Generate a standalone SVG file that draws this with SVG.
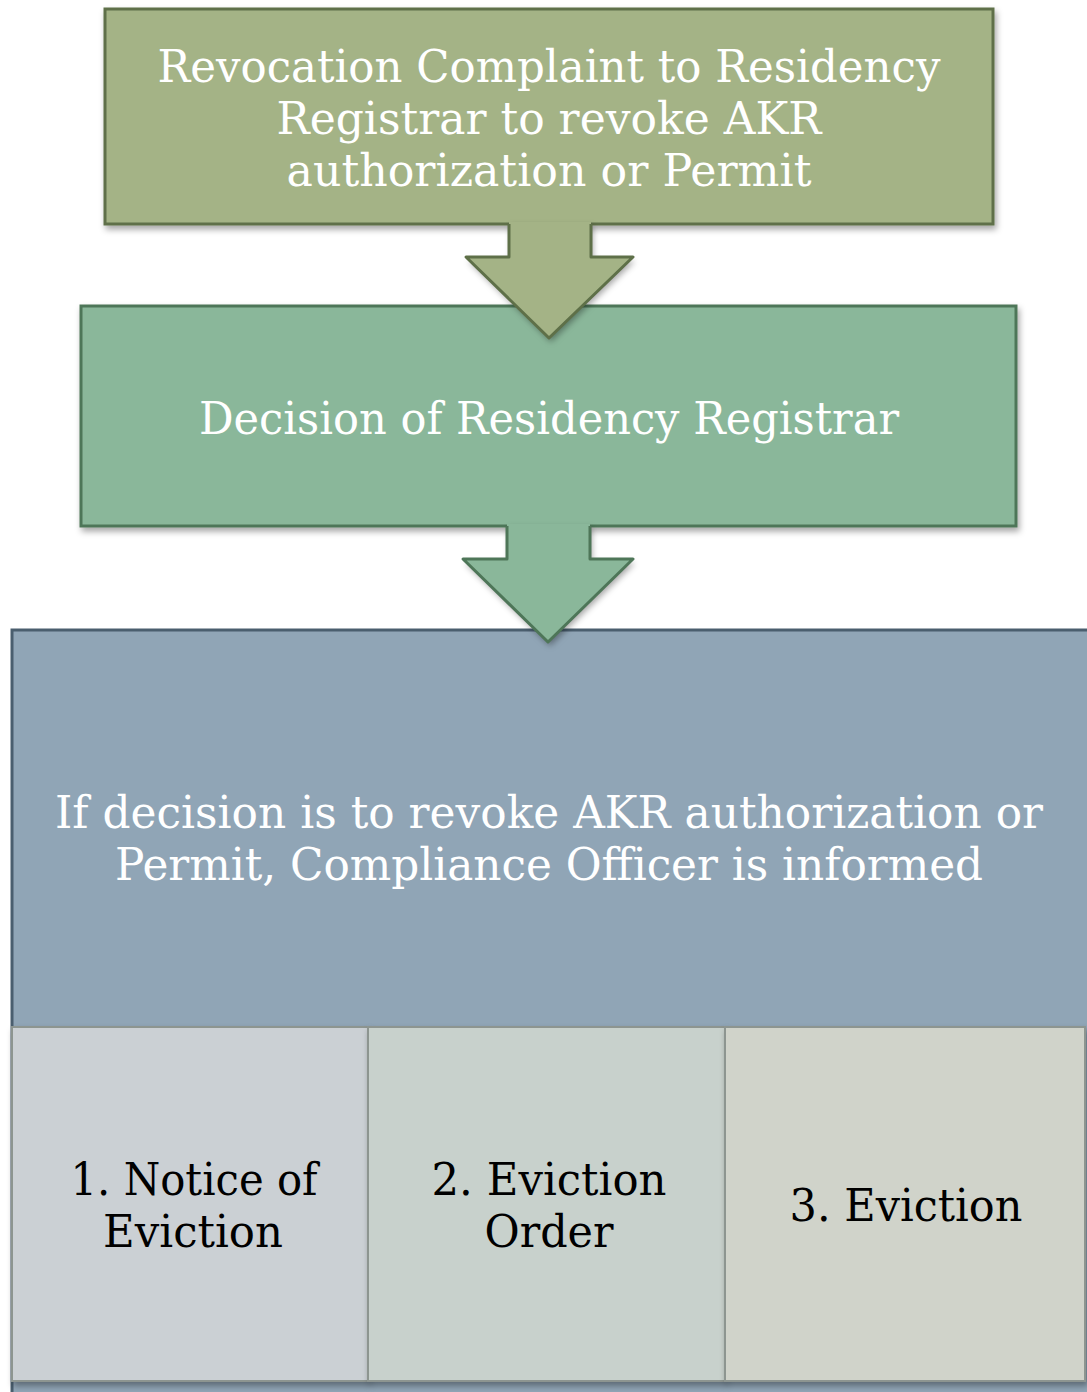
<svg xmlns="http://www.w3.org/2000/svg" width="1087" height="1392" viewBox="0 0 1087 1392">
<defs>
<filter id="sh" x="-5%" y="-5%" width="110%" height="115%">
<feDropShadow dx="2" dy="4" stdDeviation="3" flood-color="#000" flood-opacity="0.35"/>
</filter>
<style>
.t{font-family:"DejaVu Serif","Liberation Serif",serif;text-anchor:middle}
.w{fill:#ffffff;font-size:44px}
.k{fill:#000000;font-size:44px}
.g1{fill:#a4b386;stroke:#5e7048;stroke-width:3}
.g2{fill:#8ab79a;stroke:#4e7658;stroke-width:3}
.g3{fill:#90a5b6;stroke:#4a5e6e;stroke-width:3}
.s{stroke:#8d9590;stroke-width:2}
</style>
</defs>
<g id="connectors">
</g>
<g id="n1">
<rect class="g1" x="105" y="9" width="888" height="215" filter="url(#sh)"/>
<text class="t w" x="549" y="82" textLength="783" lengthAdjust="spacingAndGlyphs">Revocation Complaint to Residency</text>
<text class="t w" x="549" y="134" textLength="545" lengthAdjust="spacingAndGlyphs">Registrar to revoke AKR</text>
<text class="t w" x="549" y="186" textLength="525" lengthAdjust="spacingAndGlyphs">authorization or Permit</text>
</g>
<g id="n2">
<rect class="g2" x="81" y="306" width="935" height="220" filter="url(#sh)"/>
<text class="t w" x="549" y="434" textLength="700" lengthAdjust="spacingAndGlyphs">Decision of Residency Registrar</text>
</g>
<g id="a1">
<polygon points="509,222 591,222 591,257 633,257 549,338 466,257 509,257" fill="#a4b386" filter="url(#sh)"/>
<polyline points="509,224 509,257 466,257 549,338 633,257 591,257 591,224" fill="none" stroke="#5e7048" stroke-width="3" stroke-linejoin="round"/>
</g>
<g id="n3">
<rect class="g3" x="12" y="630" width="1080" height="780"/>
<text class="t w" x="549" y="828" textLength="988" lengthAdjust="spacingAndGlyphs">If decision is to revoke AKR authorization or</text>
<text class="t w" x="549" y="880" textLength="868" lengthAdjust="spacingAndGlyphs">Permit, Compliance Officer is informed</text>
</g>
<g id="a2">
<polygon points="507,524 590,524 590,559 633,559 548,642 463,559 507,559" fill="#8ab79a" filter="url(#sh)"/>
<polyline points="507,526 507,559 463,559 548,642 633,559 590,559 590,526" fill="none" stroke="#4e7658" stroke-width="3" stroke-linejoin="round"/>
</g>
<g id="s1">
<rect class="s" x="12" y="1027" width="356" height="354" fill="#cbd0d4" filter="url(#sh)"/>
<text class="t k" x="194" y="1195" textLength="247" lengthAdjust="spacingAndGlyphs">1. Notice of</text>
<text class="t k" x="193" y="1247" textLength="180" lengthAdjust="spacingAndGlyphs">Eviction</text>
</g>
<g id="s2">
<rect class="s" x="368" y="1027" width="357" height="354" fill="#c8d1cc" filter="url(#sh)"/>
<text class="t k" x="549" y="1195" textLength="235" lengthAdjust="spacingAndGlyphs">2. Eviction</text>
<text class="t k" x="549" y="1247" textLength="129" lengthAdjust="spacingAndGlyphs">Order</text>
</g>
<g id="s3">
<rect class="s" x="725" y="1027" width="360" height="354" fill="#d0d3ca" filter="url(#sh)"/>
<text class="t k" x="906" y="1221" textLength="233" lengthAdjust="spacingAndGlyphs">3. Eviction</text>
</g>
</svg>
